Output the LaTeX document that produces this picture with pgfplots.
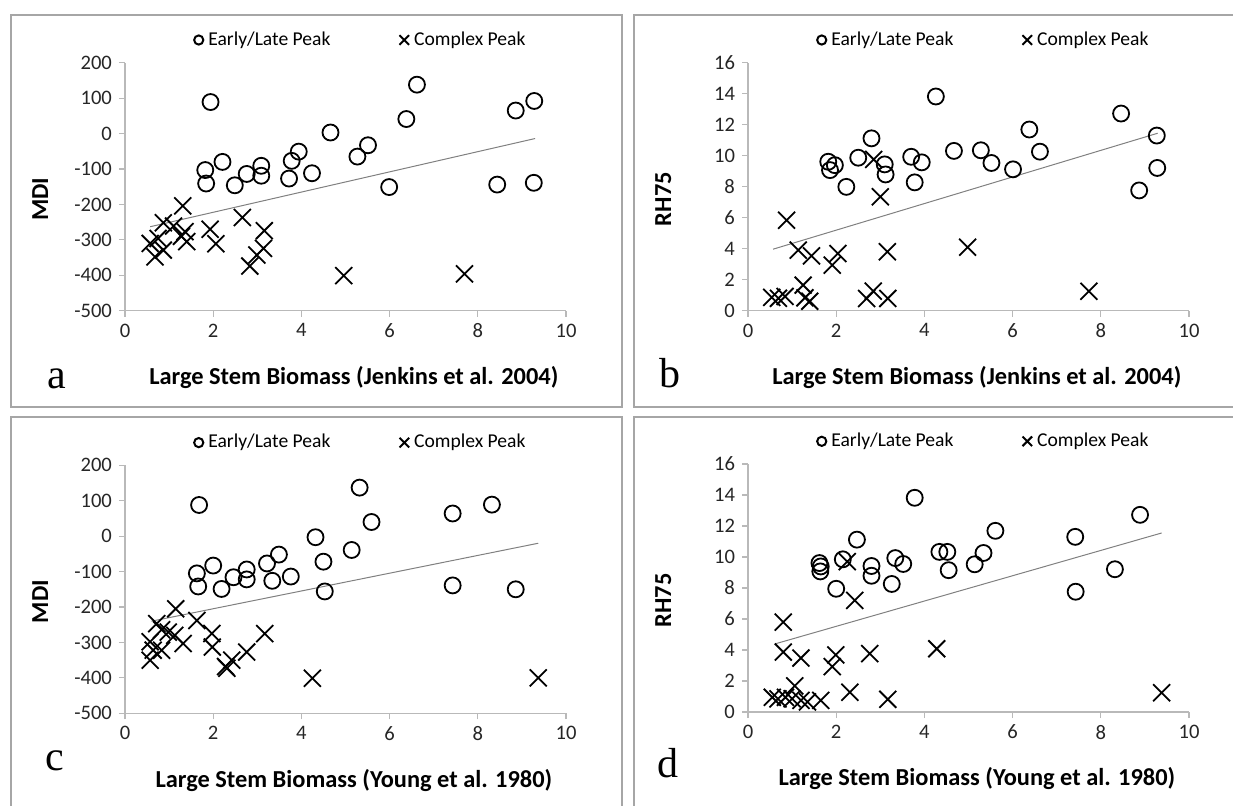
\documentclass[border=0pt]{standalone}
\usepackage{pgfplots}
\usepackage{pgfplotstable}
\pgfplotsset{compat=1.18}
\usepackage{fontspec}
\setmainfont{Carlito}
\newfontfamily\letterfont{Liberation Serif}

% panel a: MDI vs Jenkins biomass
\pgfplotstableread{
x y
1.94 89
1.82 -103
1.84 -141
2.21 -80
2.49 -146
2.76 -114
3.09 -91
3.09 -119
3.72 -127
3.78 -77
3.94 -51
4.24 -112
4.66 3
5.27 -65
5.51 -33
5.99 -151
6.38 41
6.62 138
8.44 -144
8.86 65
9.28 92
9.27 -139
}\aCirc
\pgfplotstableread{
x y
0.57 -310
0.68 -348
0.75 -296
0.87 -252
0.87 -329
1.10 -261
1.28 -290
1.31 -204
1.36 -277
1.40 -305
1.93 -270
2.06 -311
2.66 -237
2.83 -374
2.99 -343
3.16 -274
3.14 -324
4.96 -401
7.70 -396
}\aCross

% panel b: RH75 vs Jenkins biomass
\pgfplotstableread{
x y
4.26 13.82
8.46 12.72
6.38 11.69
9.27 11.30
2.80 11.12
4.67 10.31
5.28 10.35
6.62 10.26
2.50 9.87
3.70 9.93
1.82 9.61
1.97 9.39
1.86 9.07
3.10 9.44
3.12 8.79
3.94 9.57
5.52 9.53
6.01 9.12
9.28 9.21
2.23 7.99
3.78 8.28
8.87 7.76
}\bCirc
\pgfplotstableread{
x y
0.54 0.86
0.69 0.80
0.84 0.92
0.875 5.84
1.14 3.91
1.25 1.65
1.29 0.83
1.40 0.61
1.44 3.54
1.91 2.94
2.04 3.69
2.69 0.79
2.84 1.26
2.85 9.76
3.00 7.35
3.16 3.80
3.17 0.79
4.98 4.10
7.73 1.25
}\bCross

% panel c: MDI vs Young biomass
\pgfplotstableread{
x y
1.68 88
1.63 -105
1.66 -142
2.00 -83
2.19 -149
2.46 -116
2.76 -94
2.76 -122
3.22 -77
3.34 -126
3.49 -52
3.76 -114
4.32 -3
4.50 -72
4.53 -156
5.14 -39
5.32 137
5.59 40
7.43 64
7.43 -139
8.32 89
8.86 -150
}\cCirc
\pgfplotstableread{
x y
0.57 -298
0.57 -350
0.64 -322
0.72 -247
0.83 -264
0.83 -322
0.98 -271
1.13 -280
1.15 -205
1.32 -303
1.63 -238
1.97 -275
1.98 -313
2.28 -368
2.31 -373
2.42 -350
2.76 -327
3.17 -275
4.25 -401
9.37 -400
}\cCross

% panel d: RH75 vs Young biomass
\pgfplotstableread{
x y
3.78 13.82
8.89 12.72
5.61 11.69
7.42 11.30
2.47 11.12
4.34 10.33
4.52 10.33
5.34 10.26
2.15 9.85
3.34 9.93
1.62 9.61
1.65 9.39
1.64 9.07
2.80 9.42
2.80 8.79
3.52 9.55
4.55 9.15
5.14 9.53
8.32 9.21
2.00 7.95
3.26 8.26
7.43 7.76
}\dCirc
\pgfplotstableread{
x y
0.55 0.95
0.68 0.85
0.80 5.80
0.80 3.87
0.85 0.95
1.00 0.85
1.06 1.68
1.20 3.48
1.20 0.75
1.35 0.65
1.65 0.75
1.91 2.93
1.99 3.68
2.25 9.70
2.31 1.27
2.42 7.20
2.76 3.77
3.17 0.82
4.28 4.08
9.38 1.24
}\dCross

\pgfplotsset{
  panel/.style={
    scale only axis, width=220.5pt, height=124pt, anchor=south west,
    xmin=0, xmax=10, xtick={0,2,...,10},
    axis x line=bottom, axis y line=left,
    axis line style={-, gray!55, line width=0.6pt},
    tick style={gray!55, line width=0.6pt},
    tick align=outside, major tick length=3pt,
    ticklabel style={font=\fontsize{10.3}{11}\selectfont, text=black!85},
    /pgf/number format/assume math mode=true,
    xlabel style={font=\bfseries\fontsize{12.2}{13}\selectfont,
      at={(axis description cs:0.519,-0.27)}, anchor=center},
    ylabel style={font=\bfseries\fontsize{12.2}{13}\selectfont,
      at={(axis description cs:-0.192,0.45)}, anchor=center, rotate=0},
    clip=false,
    legend columns=2,
    legend style={draw=none, fill=none, font=\fontsize{9.8}{10}\selectfont,
      at={(axis description cs:0.14,1.0915)}, anchor=west,
      /tikz/every even column/.append style={column sep=32pt}},
  },
  circ/.style={only marks, mark=o, mark size=4pt,
    mark options={line width=0.9pt}, black, forget plot},
  cross/.style={only marks, mark=x, mark size=6pt,
    mark options={line width=0.9pt}, black, forget plot},
  trend/.style={gray, line width=0.5pt, no marks, forget plot},
  legcirc/.style={legend image code/.code={\draw[black, line width=1pt] (2.5pt,0pt) circle (2.3pt);}},
  legcross/.style={legend image code/.code={\draw[black, line width=1pt] (0.3pt,-2.4pt) -- (5.1pt,2.4pt) (0.3pt,2.4pt) -- (5.1pt,-2.4pt);}},
}

\newcommand{\panellegend}{%
  \addlegendimage{legcirc}\addlegendentry{Early/Late Peak}
  \addlegendimage{legcross}\addlegendentry{Complex Peak}}

\begin{document}
\begin{tikzpicture}
\useasboundingbox (0,0) rectangle (616.5pt,402.5pt);
\begin{scope}[gray!70, line width=0.6pt]
\draw (5.5pt,199pt) rectangle (311pt,395pt);
\draw (317pt,199pt) rectangle (625pt,395pt);
\draw (5.5pt,-10pt) rectangle (311pt,194pt);
\draw (317pt,-10pt) rectangle (625pt,194pt);
\end{scope}

% a
\begin{axis}[panel, at={(62.5pt,247.15pt)},
  ymin=-500, ymax=200, ytick={-500,-400,...,200},
  xlabel={Large Stem Biomass (Jenkins et al. 2004)}, ylabel={MDI}]
\panellegend
\addplot[circ] table {\aCirc};
\addplot[cross] table {\aCross};
\addplot[trend] coordinates {(0.57,-263) (9.30,-14)};
\end{axis}

% b
\begin{axis}[panel, at={(374pt,247.15pt)},
  ymin=0, ymax=16, ytick={0,2,...,16},
  xlabel={Large Stem Biomass (Jenkins et al. 2004)}, ylabel={RH75}]
\panellegend
\addplot[circ] table {\bCirc};
\addplot[cross] table {\bCross};
\addplot[trend] coordinates {(0.57,3.97) (9.29,11.45)};
\end{axis}

% c
\begin{axis}[panel, at={(62.5pt,45.85pt)},
  ymin=-500, ymax=200, ytick={-500,-400,...,200},
  xlabel={Large Stem Biomass (Young et al. 1980)}, ylabel={MDI}]
\panellegend
\addplot[circ] table {\cCirc};
\addplot[cross] table {\cCross};
\addplot[trend] coordinates {(0.60,-240) (9.37,-20)};
\end{axis}

% d
\begin{axis}[panel, at={(374pt,46.5pt)},
  ymin=0, ymax=16, ytick={0,2,...,16},
  xlabel={Large Stem Biomass (Young et al. 1980)}, ylabel={RH75}]
\panellegend
\addplot[circ] table {\dCirc};
\addplot[cross] table {\dCross};
\addplot[trend] coordinates {(0.62,4.40) (9.38,11.55)};
\end{axis}

\node[font=\letterfont\fontsize{21}{22}\selectfont] at (28.5pt,213pt) {a};
\node[font=\letterfont\fontsize{21}{22}\selectfont] at (335pt,216pt) {b};
\node[font=\letterfont\fontsize{21}{22}\selectfont] at (27.5pt,22pt) {c};
\node[font=\letterfont\fontsize{21}{22}\selectfont] at (334pt,21pt) {d};
\end{tikzpicture}
\end{document}
